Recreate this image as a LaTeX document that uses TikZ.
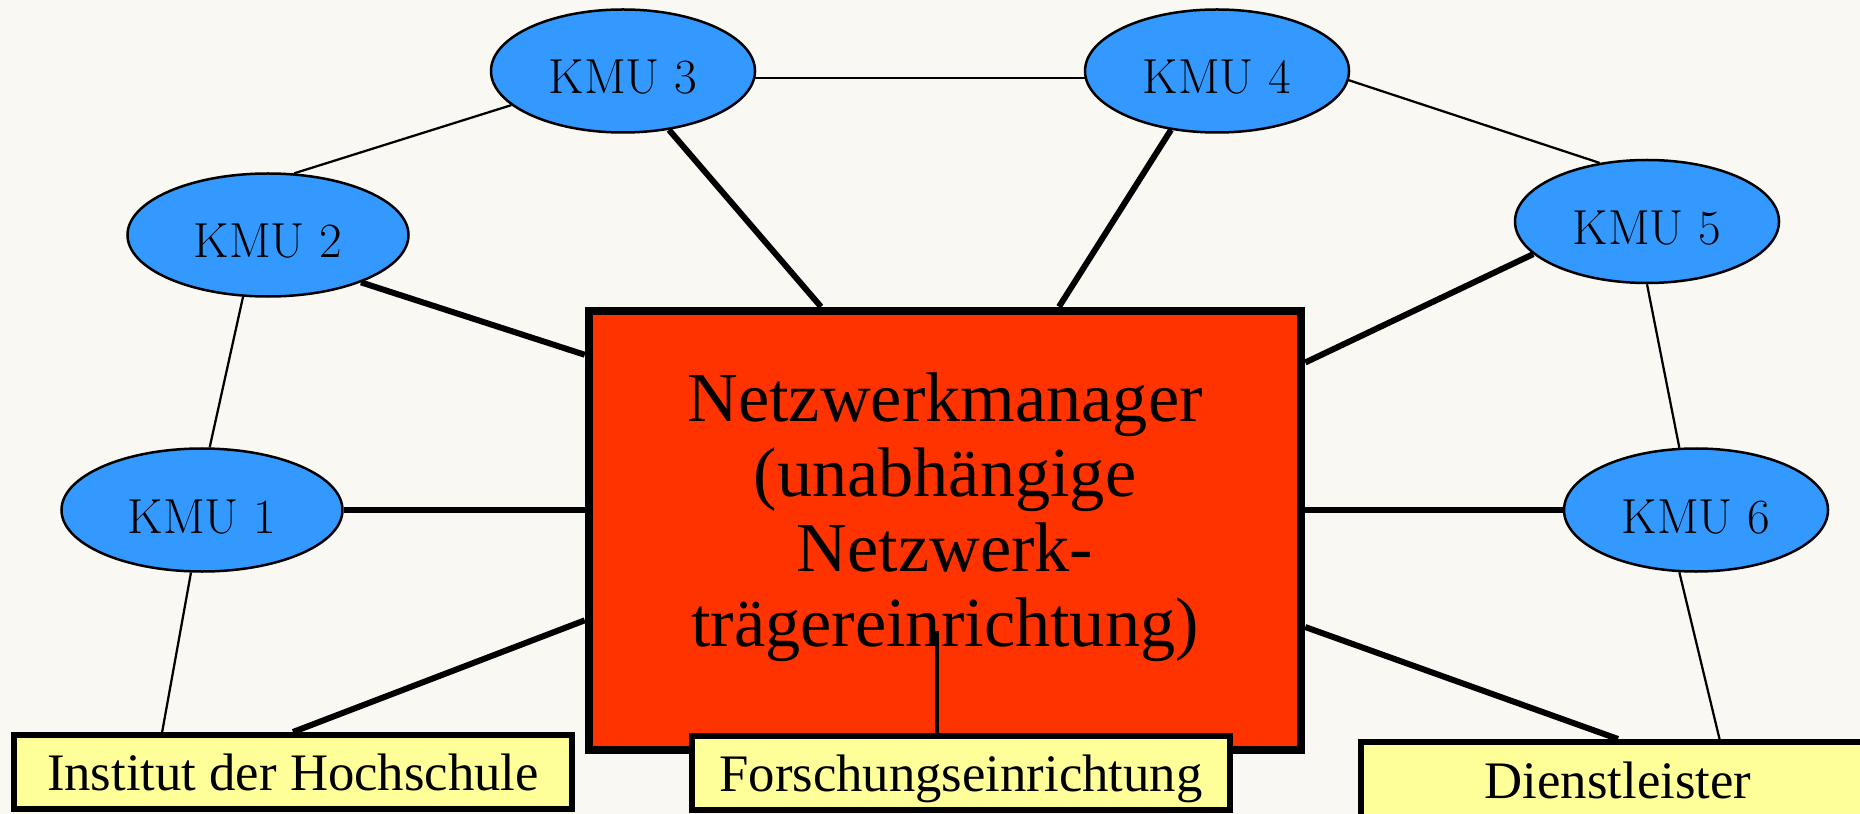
\documentclass[tikz,border=0pt]{standalone}
\usepackage{fontspec}
\newfontfamily\boxfont{Liberation Serif}
\usepackage{tikz}
\usetikzlibrary{shapes.geometric,calc}
\usepackage{xcolor}
\definecolor{bgcream}{RGB}{250,248,243}
\definecolor{kmublue}{RGB}{51,153,255}
\definecolor{mgrred}{RGB}{255,51,0}
\definecolor{partneryellow}{RGB}{255,255,153}

\begin{document}
\begin{tikzpicture}[x=0.2mm,y=-0.2mm,
    kmu/.style={ellipse,draw,line width=0.5mm,fill=kmublue,inner sep=0pt,
      minimum width=5.28cm,minimum height=2.46cm,
      font=\fontsize{28}{32}\selectfont,text height=0.92cm,text depth=0pt},
    partner/.style={rectangle,draw,line width=1.2mm,fill=partneryellow,inner sep=0pt,
      minimum height=1.48cm,font=\boxfont\fontsize{30}{34}\selectfont,
      text height=0.74cm,text depth=0pt},
    mainlink/.style={line width=1.2mm},
    sidelink/.style={line width=0.45mm}]
    \fill[bgcream] (0,0) rectangle (1860,814);
    \useasboundingbox (0,0) rectangle (1860,814);
    \clip (0,0) rectangle (1860,814);
    \node[draw,line width=1.7mm,fill=mgrred,inner sep=0pt,
      minimum width=14.24cm,minimum height=8.78cm,align=center,
      font=\boxfont\fontsize{40}{42.7}\selectfont,text height=5.05cm,text depth=0.4cm]
      (mgr) at (945,530.5) {Netzwerkmanager\\(unabhängige\\Netzwerk-\\trägereinrichtung)};
    \node[partner,minimum width=11.16cm] (inst) at (293,772) {Institut der Hochschule};
    \node[partner,minimum width=10.76cm] (forsch) at (961,773) {Forschungseinrichtung};
    \node[partner,minimum width=10.3cm,minimum height=1.52cm] (dienst) at (1618,780) {Dienstleister};
    \node[kmu,minimum width=5.62cm] (kmu1) at (202,510) {KMU 1};
    \node[kmu,minimum width=5.62cm] (kmu2) at (268,235) {KMU 2};
    \node[kmu] (kmu3) at (623,71) {KMU 3};
    \node[kmu] (kmu4) at (1217,71) {KMU 4};
    \node[kmu] (kmu5) at (1647,221.5) {KMU 5};
    \node[kmu] (kmu6) at (1696,510) {KMU 6};
    \draw[mainlink] (kmu3.308) -- (mgr.119.7);
    \draw[mainlink] (kmu4.232) -- (mgr.63.8);
    \draw[mainlink] (kmu2.333) -- (mgr.154.9);
    \draw[mainlink] (kmu5.196) -- (mgr.25.1);
    \draw[mainlink] (kmu1.east) -- (kmu1.east -| mgr.west);
    \draw[mainlink] (kmu6.west) -- (kmu6.west -| mgr.east);
    \draw[mainlink] (mgr.194.5) -- (inst.north);
    \draw[mainlink] (mgr.345.5) -- (dienst.north);
    \draw[line width=0.9mm] ($(forsch.north)+(-24,0)$) -- ++(0,-102);
    \draw[sidelink] (kmu3.-3) -- (kmu4.183);
    \draw[sidelink] (kmu2.67) -- (kmu3.197);
    \draw[sidelink] (kmu4.-4) -- (kmu5.129);
    \draw[sidelink] (kmu2.248) -- (kmu1.83);
    \draw[sidelink] (kmu5.south) -- (kmu6.105);
    \draw[sidelink] (kmu1.260) -- (inst.163);
    \draw[sidelink] (kmu6.255.5) -- (dienst.22);
\end{tikzpicture}
\end{document}
